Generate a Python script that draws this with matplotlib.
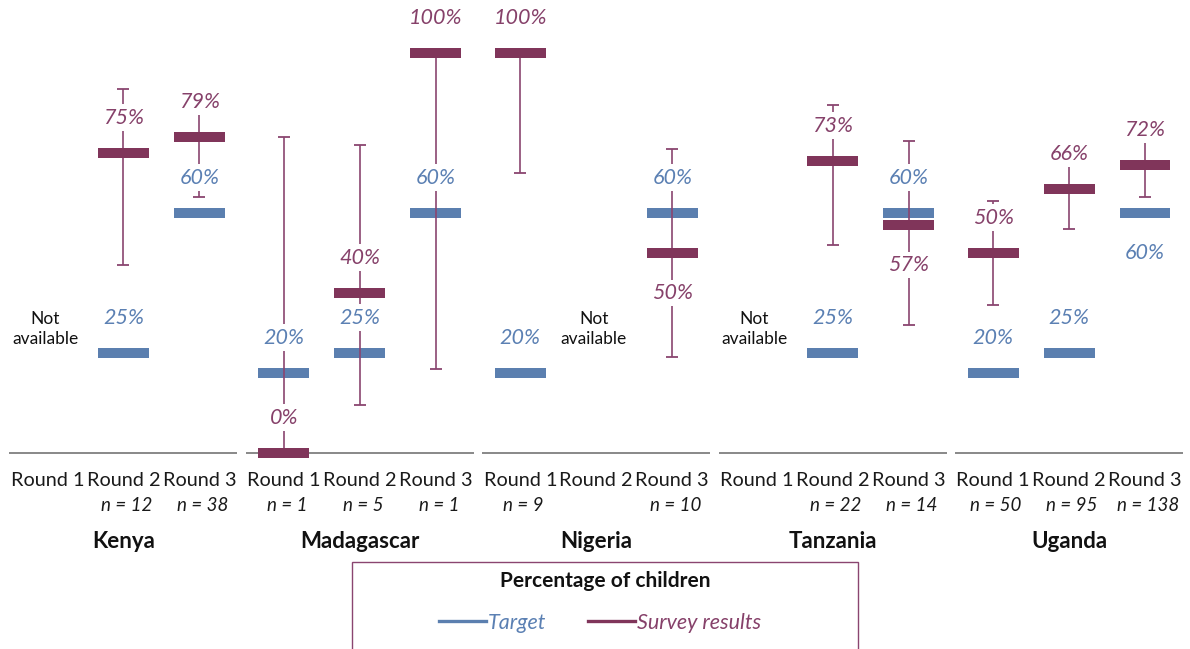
import matplotlib.pyplot as plt
import numpy as np
from matplotlib.lines import Line2D
from matplotlib.patches import Rectangle

plt.rcParams['font.family'] = ['Lato', 'DejaVu Sans']

countries = ['Kenya', 'Madagascar', 'Nigeria', 'Tanzania', 'Uganda']
rounds = ['Round 1', 'Round 2', 'Round 3']

# percentage of children, one row per country, one column per round (None = not available)
target = [[None, 25, 60], [20, 25, 60], [20, None, 60], [None, 25, 60], [20, 25, 60]]
survey = [[None, 75, 79], [0, 40, 100], [100, None, 50], [None, 73, 57], [50, 66, 72]]
survey_lo = [[None, 47, 64], [0, 12, 21], [70, None, 24], [None, 52, 32], [37, 56, 64]]
survey_hi = [[None, 91, 88], [79, 77, 100], [100, None, 76], [None, 87, 78], [63, 74, 80]]
sample_n = [[None, 12, 38], [1, 5, 1], [9, None, 10], [None, 22, 14], [50, 95, 138]]

blue = '#5B7FAF'
maroon = '#80355A'
maroon_txt = '#86416A'
blue_txt = '#5B80B3'
grey = '#7F7F7F'

gap = 0.112   # extra space between country groups, in slot units
bar_w = 0.67
bar_h = 2.5

fig = plt.figure(figsize=(11.9, 6.49), dpi=100)
ax = fig.add_axes([0, 0, 1, 1])
ax.set_xlim(-0.625, 15.04)
ax.set_ylim(-49, 113.25)
ax.axis('off')

pct_kw = dict(ha='center', va='center', fontsize=15.5, style='italic',
              bbox=dict(facecolor='white', edgecolor='none', pad=2.5), zorder=6)

for g, country in enumerate(countries):
    x0 = g * (3 + gap)
    ax.hlines(0, x0 - 0.5, x0 + 2.5, color=grey, lw=1.3, zorder=1)
    ax.text(x0 + 1, -22, country, ha='center', va='center', fontsize=16,
            fontweight='bold', color='#111111')
    for r in range(3):
        x = x0 + r
        ax.text(x, -7, rounds[r], ha='center', va='center', fontsize=14.3, color='#1a1a1a')
        if sample_n[g][r] is not None:
            ax.text(x + 0.04, -13.2, f'n = {sample_n[g][r]}', ha='center', va='center',
                    fontsize=13.5, style='italic', color='#1a1a1a')
        t = target[g][r]
        s = survey[g][r]
        if t is None and s is None:
            ax.text(x - 0.03, 31, 'Not\navailable', ha='center', va='center',
                    fontsize=12.5, color='#111111', linespacing=1.25)
            continue
        if t is not None:
            ax.bar(x, bar_h, bottom=t - bar_h / 2, width=bar_w, color=blue, zorder=2)
        if s is not None:
            ax.errorbar(x, s, yerr=[[s - survey_lo[g][r]], [survey_hi[g][r] - s]],
                        fmt='none', ecolor='#8A4570', elinewidth=1.2,
                        capsize=4.5, capthick=1.3, zorder=3)
            ax.bar(x, bar_h, bottom=s - bar_h / 2, width=bar_w, color=maroon, zorder=4)
        # the lower of two close marks gets its label underneath
        both = s is not None and t is not None
        t_below = both and 0 < s - t < 14
        s_below = both and 0 < t - s < 14
        if t is not None:
            ty = t - 10 if t_below else t + 8.8
            ax.text(x, ty, f'{t}%', color=blue_txt, **pct_kw)
        if s is not None:
            sy = s - 10 if s_below else s + 8.8
            ax.text(x, sy, f'{s}%', color=maroon_txt, **pct_kw)

# legend box, running off the bottom edge
fig.patches.append(Rectangle((352 / 1190, -0.05), (858 - 352) / 1190, 0.05 + (649 - 562) / 649,
                             transform=fig.transFigure, fill=False,
                             edgecolor='#8A4570', lw=1.0))
fig.text(605 / 1190, 1 - 581 / 649, 'Percentage of children', ha='center', va='center',
         fontsize=15, fontweight='bold', color='#111111')
handles = [Line2D([], [], color=blue, lw=2.4),
           Line2D([], [], color=maroon, lw=2.4)]
leg = fig.legend(handles, ['Target', 'Survey results'], loc='center',
                 bbox_to_anchor=(600 / 1190, 1 - 623 / 649), ncol=2, frameon=False,
                 handlelength=2.2, handletextpad=0.1, columnspacing=1.9,
                 prop=dict(family='Lato', style='italic', size=15.5))
for txt, c in zip(leg.get_texts(), [blue_txt, maroon_txt]):
    txt.set_color(c)

fig.savefig('out.png', dpi=100)
